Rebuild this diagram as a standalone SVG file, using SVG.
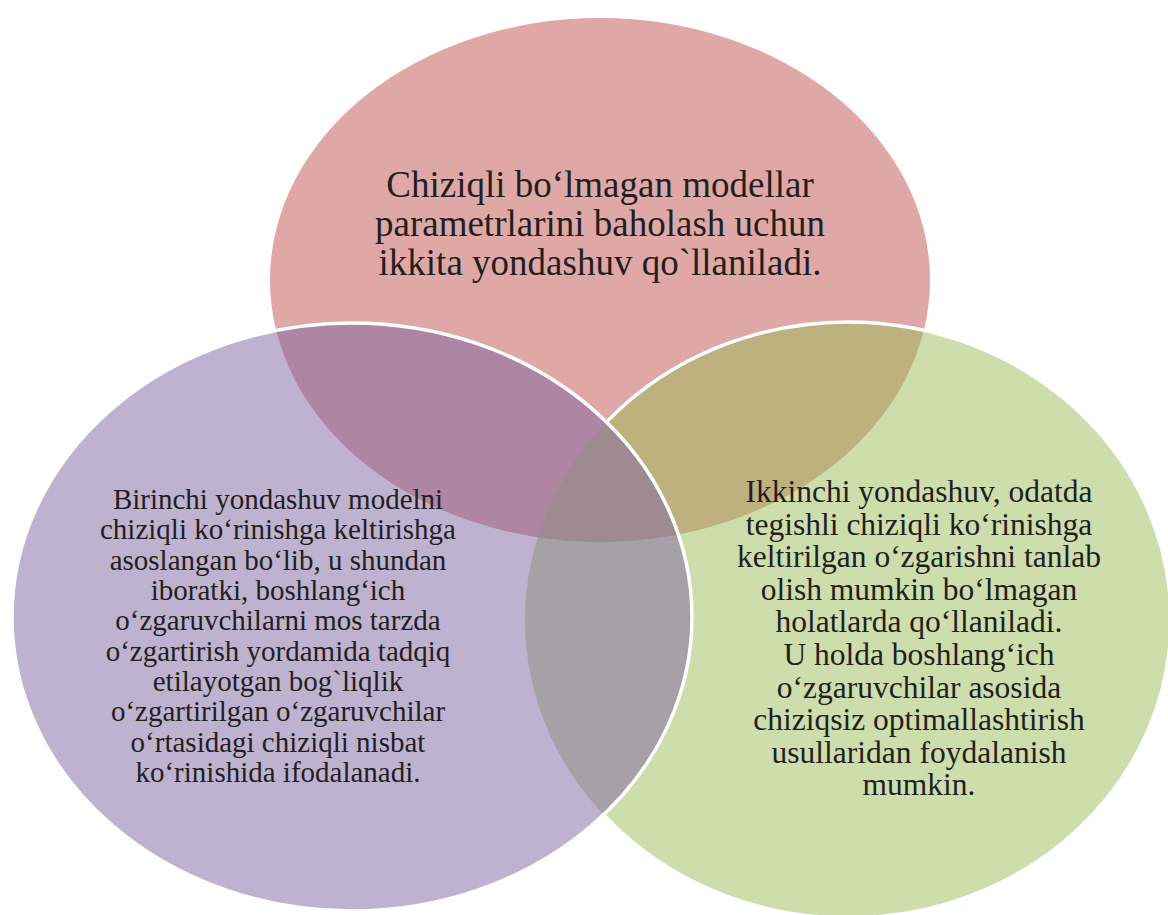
<svg xmlns="http://www.w3.org/2000/svg" width="1168" height="915" viewBox="0 0 1168 915">
  <style>
    .lbl { font-family: "Liberation Serif", "Times New Roman", serif; fill: #231f20; text-anchor: middle; }
    .top { font-size: 37px; }
    .left { font-size: 29px; }
    .right { font-size: 31.5px; }
    .edge { fill: none; stroke: #ffffff; stroke-width: 3.5; }
  </style>
  <defs>
    <clipPath id="outsidePurple">
      <path clip-rule="evenodd" d="M0 0H1168V915H0Z M12 617 a340 294 0 1 0 680 0 a340 294 0 1 0 -680 0Z"/>
    </clipPath>
  </defs>
  <rect width="1168" height="915" fill="#ffffff"/>

  <g id="node-top">
    <ellipse cx="600" cy="280" rx="330" ry="262" fill="#C0504D" fill-opacity="0.5"/>
    <text class="lbl top" x="600" y="197">Chiziqli bo‘lmagan modellar</text>
    <text class="lbl top" x="600" y="236">parametrlarini baholash uchun</text>
    <text class="lbl top" x="600" y="275">ikkita yondashuv qo`llaniladi.</text>
  </g>

  <g id="node-right">
    <ellipse cx="848" cy="620" rx="323" ry="298" fill="#9BBB59" fill-opacity="0.5"/>
    <ellipse class="edge" cx="848" cy="620" rx="323" ry="298" clip-path="url(#outsidePurple)"/>
    <text class="lbl right" x="919" y="502">Ikkinchi yondashuv, odatda</text>
    <text class="lbl right" x="919" y="534.6">tegishli chiziqli ko‘rinishga</text>
    <text class="lbl right" x="919" y="567.2">keltirilgan o‘zgarishni tanlab</text>
    <text class="lbl right" x="919" y="599.8">olish mumkin bo‘lmagan</text>
    <text class="lbl right" x="919" y="632.4">holatlarda qo‘llaniladi.</text>
    <text class="lbl right" x="919" y="665">U holda boshlang‘ich</text>
    <text class="lbl right" x="919" y="697.6">o‘zgaruvchilar asosida</text>
    <text class="lbl right" x="919" y="730.2">chiziqsiz optimallashtirish</text>
    <text class="lbl right" x="919" y="762.8">usullaridan foydalanish</text>
    <text class="lbl right" x="919" y="795.4">mumkin.</text>
  </g>

  <g id="node-left">
    <ellipse cx="352" cy="617" rx="340" ry="294" fill="#8064A2" fill-opacity="0.5"/>
    <ellipse class="edge" cx="352" cy="617" rx="340" ry="294"/>
    <text class="lbl left" x="278" y="509">Birinchi yondashuv modelni</text>
    <text class="lbl left" x="278" y="539.3">chiziqli ko‘rinishga keltirishga</text>
    <text class="lbl left" x="278" y="569.7">asoslangan bo‘lib, u shundan</text>
    <text class="lbl left" x="278" y="600">iboratki, boshlang‘ich</text>
    <text class="lbl left" x="278" y="630.3">o‘zgaruvchilarni mos tarzda</text>
    <text class="lbl left" x="278" y="660.7">o‘zgartirish yordamida tadqiq</text>
    <text class="lbl left" x="278" y="691">etilayotgan bog`liqlik</text>
    <text class="lbl left" x="278" y="721.3">o‘zgartirilgan o‘zgaruvchilar</text>
    <text class="lbl left" x="278" y="751.7">o‘rtasidagi chiziqli nisbat</text>
    <text class="lbl left" x="278" y="782">ko‘rinishida ifodalanadi.</text>
  </g>

  <g id="connectors"/>
</svg>
